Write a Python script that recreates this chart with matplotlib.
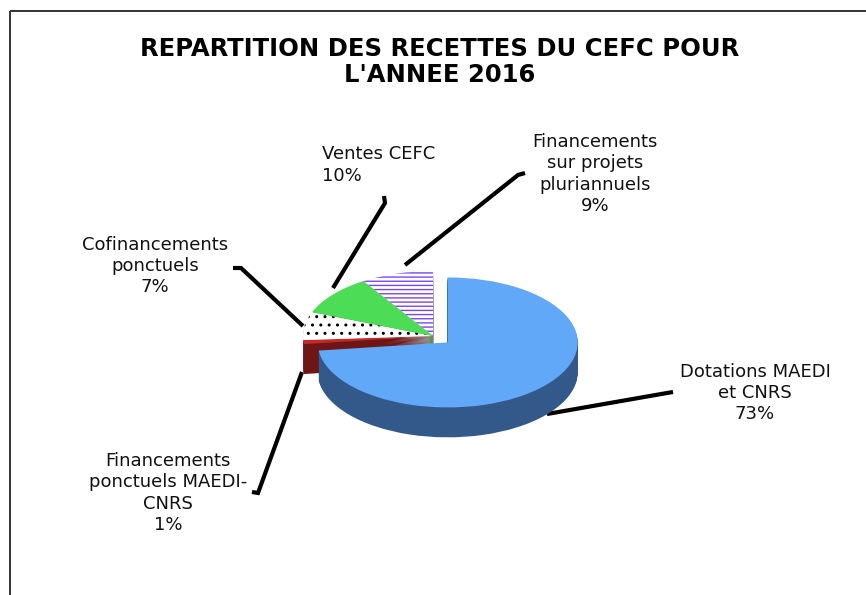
import matplotlib
matplotlib.use("Agg")
import matplotlib.pyplot as plt
from matplotlib.patches import Rectangle

# data (clockwise from 12 o'clock)
labels = ["Dotations MAEDI\net CNRS", "Financements\nponctuels MAEDI-\nCNRS",
          "Cofinancements\nponctuels", "Ventes CEFC",
          "Financements\nsur projets\npluriannuels"]
shares = [73, 1, 7, 10, 9]

top_colors = ["#62A8F9", "#C4282B", "white", "#4CDC56", "white"]
side_colors = ["#33598A", "#6E1616", "#9A9A9A", "#2E9E36", "#8A8A8A"]
hatches = ["", "", "..", "", "----"]
hatch_colors = ["none", "none", "black", "none", "#7B45EE"]
explode = [0.15, 0, 0, 0, 0]

fig = plt.figure(figsize=(8.66, 5.95), dpi=100)

# background axes in pixel coordinates for border, title, labels, leaders
bg = fig.add_axes([0, 0, 1, 1])
bg.set_xlim(0, 866)
bg.set_ylim(595, 0)
bg.axis("off")
bg.add_patch(Rectangle((10, 11), 900, 620, fill=False, edgecolor="#333333", lw=1.4))

bg.text(440, 62, "REPARTITION DES RECETTES DU CEFC POUR\nL'ANNEE 2016", ha="center",
        va="center", fontsize=17.5, fontweight="bold", linespacing=1.12)

# pie axes: ellipse made by a wide box with equal data ranges
pax = fig.add_axes([0.1998, 0.2168, 0.6005, 0.437])
depth = 0.46
n_layers = 36
for k in range(n_layers + 1):
    off = -depth * (1 - k / n_layers)
    cols = side_colors if k < n_layers else top_colors
    wedges, _ = pax.pie(shares, colors=cols, startangle=90, counterclock=False,
                        explode=explode, center=(0, off),
                        wedgeprops=dict(linewidth=0))
    if k == n_layers:
        for w, h, hc in zip(wedges, hatches, hatch_colors):
            if h:
                w.set_hatch(h)
                w.set_edgecolor(hc)
                w.set_linewidth(0)
pax.set_aspect("auto")
pax.set_xlim(-2, 2)
pax.set_ylim(-2, 2)
pax.axis("off")

# labels with percentages
label_pos = [(755, 393, "center"), (168, 493, "center"), (155, 266, "center"),
             (322, 165, "left"), (595, 174, "center")]
for lab, s, (x, y, ha) in zip(labels, shares, label_pos):
    bg.text(x, y, f"{lab}\n{s}%", ha=ha, va="center", fontsize=13, linespacing=1.22,
            color="#111111")

leaders = [
    [(547, 414), (667, 393), (673, 392)],
    [(252, 492), (258, 493), (302, 372)],
    [(233, 268), (241, 268), (303, 326)],
    [(384, 196), (385, 203), (333, 288)],
    [(525, 173), (518, 175), (405, 265)],
]
for pts in leaders:
    xs, ys = zip(*pts)
    bg.plot(xs, ys, color="black", lw=3, solid_capstyle="butt", solid_joinstyle="miter")

fig.savefig("out.png", dpi=100)
